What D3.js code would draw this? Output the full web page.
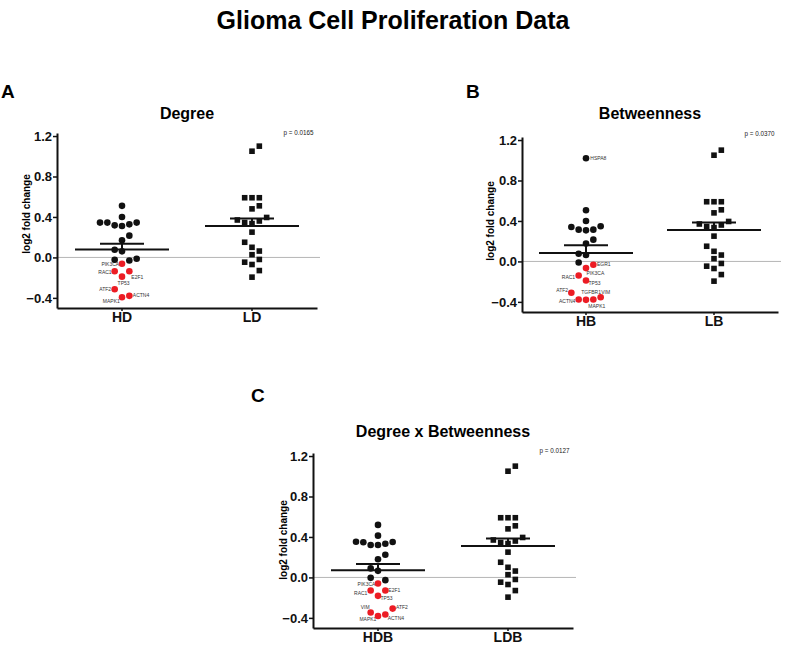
<!DOCTYPE html>
<html><head><meta charset="utf-8">
<script src="https://cdn.jsdelivr.net/npm/d3@7"></script>
<style>
body{margin:0;background:#fff}
svg{display:block}
text{font-family:"Liberation Sans",Arial,Helvetica,sans-serif}
</style>
</head><body>
<svg id="chart" width="787" height="645"></svg>
<script>
// ---------------- DATA ----------------
const mainTitle = "Glioma Cell Proliferation Data";
const yTicks = [-0.4, 0.0, 0.4, 0.8, 1.2];

// Panel A – Degree
const catsA = ["HD", "LD"];
const hdBlack = [0.51, 0.40, 0.344, 0.344, 0.317, 0.31, 0.327, 0.344, 0.215, 0.169, 0.076, 0.06, -0.023, -0.03, -0.013];
const hdBlackSlot = [0, 0, -3, -2, -1, 0, 1, 2, 1, 0, -1, 0, -1, 1, 2];
const hdBlackGenes = ["", "", "", "", "", "", "", "", "", "", "", "", "", "", ""];
const hdRedGenes = ["PIK3CA", "RAC1", "E2F1", "TP53", "ATF2", "MAPK1", "ACTN4"];
const hdRed = [-0.063, -0.136, -0.136, -0.19, -0.314, -0.394, -0.38];
const hdRedSlot = [0, -1, 1, 0, -1, 0, 1];
const pA = "p = 0.0165";

// Panel B – Betweenness
const catsB = ["HB", "LB"];
const hbBlack = [1.02, 0.506, 0.40, 0.34, 0.314, 0.307, 0.314, 0.347, 0.215, 0.176, 0.076, 0.063, -0.01];
const hbBlackSlot = [0, 0, 0, -2, -1, 0, 1, 2, 1, 0, -1, 0, -1];
const hbBlackGenes = ["HSPA8", "", "", "", "", "", "", "", "", "", "", "", ""];
const hbRedGenes = ["EGR1", "PIK3CA", "RAC1", "TP53", "ATF2", "ACTN4", "MAPK1", "TGFBR1", "VIM"];
const hbRed = [-0.033, -0.066, -0.139, -0.188, -0.31, -0.377, -0.38, -0.377, -0.354];
const hbRedSlot = [1, 0, -1, 0, -2, -1, 0, 1, 2];
const pB = "p = 0.0370";

// Panel C – Degree x Betweenness
const catsC = ["HDB", "LDB"];
const hdbBlack = [0.519, 0.413, 0.353, 0.347, 0.32, 0.32, 0.333, 0.35, 0.224, 0.179, 0.089, 0.065, -0.004, -0.027];
const hdbBlackSlot = [0, 0, -3, -2, -1, 0, 1, 2, 1, 0, -1, 0, -1, 1];
const hdbBlackGenes = ["", "", "", "", "", "", "", "", "", "", "", "", "", ""];
const hdbRedGenes = ["PIK3CA", "RAC1", "E2F1", "TP53", "ATF2", "VIM", "MAPK1", "ACTN4"];
const hdbRed = [-0.06, -0.129, -0.129, -0.182, -0.308, -0.347, -0.381, -0.367];
const hdbRedSlot = [0, -1, 1, 0, 2, -1, 0, 1];
const pC = "p = 0.0127";

// Low group (same in all three panels)
const lowValues = [1.05, 1.10, 0.59, 0.59, 0.59, 0.48, 0.51, 0.37, 0.345, 0.335, 0.36, 0.395, 0.25, 0.15, 0.10, 0.063, 0.027, -0.02, -0.047, -0.07, -0.13, -0.195];
const lowSlot = [0, 1, -1, 0, 1, 0, 1, -2, -1, 0, 1, 2, 0, -1, 0, 1, 0, 1, -1, 0, 1, 0];

// ---------------- LAYOUT / STYLE ----------------
const labelPlace = {
  A: {PIK3CA:[-2.8,2.5,"end"], RAC1:[-3,2.4,"end"], E2F1:[2,7.6,"start"], TP53:[-4.4,8.1,"start"],
      ATF2:[-3.5,1.8,"end"], ACTN4:[3.5,1.5,"start"], MAPK1:[-2.2,5.4,"end"]},
  B: {HSPA8:[4.3,1.8,"start"], EGR1:[3.7,1.5,"start"], PIK3CA:[0.5,6.8,"start"], RAC1:[-3.5,3.8,"end"],
      TP53:[2.5,4.8,"start"], ATF2:[-3.3,-0.9,"end"], ACTN4:[-3.3,3.2,"end"], MAPK1:[2.3,7.8,"start"],
      TGFBR1:[-2.2,-5.2,"middle"], VIM:[0.6,-2.9,"start"]},
  C: {PIK3CA:[-2.6,2.5,"end"], RAC1:[-3.3,4.5,"end"], E2F1:[3,1.5,"start"], TP53:[2.5,4.1,"start"],
      VIM:[-1,-3.2,"end"], ATF2:[3.3,0.5,"start"], MAPK1:[-1.6,5.4,"end"], ACTN4:[2.3,5.8,"start"]}
};

const panels = [
  {id:"A", title:"Degree", cats:catsA, black:hdBlack, blackSlot:hdBlackSlot, blackGenes:hdBlackGenes,
   redGenes:hdRedGenes, red:hdRed, redSlot:hdRedSlot, p:pA,
   x0:57, x1:317, bottom:308, letterX:1, letterY:98, titleY:119, ylabX:30, ylabY:214, pY:135},
  {id:"B", title:"Betweenness", cats:catsB, black:hbBlack, blackSlot:hbBlackSlot, blackGenes:hbBlackGenes,
   redGenes:hbRedGenes, red:hbRed, redSlot:hbRedSlot, p:pB,
   x0:522, x1:778, bottom:312, letterX:466, letterY:98, titleY:119, ylabX:494, ylabY:221, pY:135.5},
  {id:"C", title:"Degree x Betweenness", cats:catsC, black:hdbBlack, blackSlot:hdbBlackSlot, blackGenes:hdbBlackGenes,
   redGenes:hdbRedGenes, red:hdbRed, redSlot:hdbRedSlot, p:pC,
   x0:313, x1:573, bottom:628, letterX:251, letterY:402, titleY:437, ylabX:287, ylabY:540, pY:453}
];

const RED = "#ec1c24";
const SLOT = 7.33;
const svg = d3.select("#chart");

svg.append("text").attr("x", 393).attr("y", 29).attr("text-anchor", "middle")
  .attr("font-size", 25).attr("font-weight", "bold").text(mainTitle);

panels.forEach(P => {
  const g = svg.append("g");
  const y = d3.scaleLinear().domain([-0.5, 1.23]).range([P.bottom, P.bottom - 175]);
  const x = d3.scaleBand().domain(P.cats).range([P.x0, P.x1]).padding(0);
  const cx = c => x(c) + x.bandwidth() / 2;

  g.append("text").attr("x", P.letterX).attr("y", P.letterY).attr("font-size", 19)
    .attr("font-weight", "bold").text(P.id);
  g.append("text").attr("x", (P.x0 + P.x1) / 2).attr("y", P.titleY).attr("text-anchor", "middle")
    .attr("font-size", 16).attr("font-weight", "bold").text(P.title);
  g.append("text").attr("x", P.x1 - 3.5).attr("y", P.pY).attr("text-anchor", "end")
    .attr("font-size", 6.3).attr("fill", "#222").text(P.p);
  g.append("text").attr("transform", `translate(${P.ylabX},${P.ylabY}) rotate(-90)`)
    .attr("text-anchor", "middle").attr("font-size", 10).attr("font-weight", "bold").text("log2 fold change");

  g.append("line").attr("x1", P.x0).attr("x2", P.x1 + 3).attr("y1", y(0)).attr("y2", y(0))
    .attr("stroke", "#b5b5b5").attr("stroke-width", 1);

  const hc = cx(P.cats[0]), lc = cx(P.cats[1]);
  const highAll = P.black.concat(P.red);

  const labelled = [];
  P.black.forEach((v, i) => { if (P.blackGenes[i]) labelled.push({gene:P.blackGenes[i], v, s:P.blackSlot[i]}); });
  P.red.forEach((v, i) => labelled.push({gene:P.redGenes[i], v, s:P.redSlot[i]}));
  labelled.forEach(d => {
    const pl = labelPlace[P.id][d.gene];
    g.append("text").attr("x", hc + d.s * SLOT + pl[0]).attr("y", y(d.v) + pl[1])
      .attr("text-anchor", pl[2]).attr("font-size", 5).attr("fill", "#333").text(d.gene);
  });

  g.selectAll(null).data(P.black.map((v, i) => ({v, s:P.blackSlot[i]}))).join("circle")
    .attr("cx", d => hc + d.s * SLOT).attr("cy", d => y(d.v)).attr("r", 3.3).attr("fill", "#111");
  g.selectAll(null).data(P.red.map((v, i) => ({v, s:P.redSlot[i]}))).join("circle")
    .attr("cx", d => hc + d.s * SLOT).attr("cy", d => y(d.v)).attr("r", 3.3).attr("fill", RED);

  g.selectAll(null).data(lowValues.map((v, i) => ({v, s:lowSlot[i]}))).join("rect")
    .attr("x", d => lc + d.s * SLOT - 2.8).attr("y", d => y(d.v) - 2.8)
    .attr("width", 5.6).attr("height", 5.6).attr("fill", "#111");

  [[hc, highAll], [lc, lowValues]].forEach(([c, vals]) => {
    const m = d3.mean(vals), sem = d3.deviation(vals) / Math.sqrt(vals.length);
    g.append("line").attr("x1", c - 47).attr("x2", c + 47).attr("y1", y(m)).attr("y2", y(m))
      .attr("stroke", "#111").attr("stroke-width", 2);
    g.append("line").attr("x1", c - 22).attr("x2", c + 22).attr("y1", y(m + sem)).attr("y2", y(m + sem))
      .attr("stroke", "#111").attr("stroke-width", 2);
    g.append("line").attr("x1", c).attr("x2", c).attr("y1", y(m)).attr("y2", y(m + sem))
      .attr("stroke", "#111").attr("stroke-width", 2);
  });

  const ya = g.append("g").attr("transform", `translate(${P.x0},0)`)
    .call(d3.axisLeft(y).tickValues(yTicks).tickFormat(d3.format(".1f")).tickSize(4).tickSizeOuter(0));
  ya.select(".domain").attr("stroke-width", 2).attr("stroke", "#111");
  ya.selectAll(".tick line").attr("stroke-width", 1.5).attr("stroke", "#111");
  ya.selectAll(".tick text").attr("font-size", 13).attr("font-weight", "bold").attr("fill", "#111")
    .attr("font-family", "'Liberation Sans',Arial,sans-serif").attr("x", -5);

  const xa = g.append("g").attr("transform", `translate(0,${P.bottom})`)
    .call(d3.axisBottom(x).tickSize(3).tickSizeOuter(0));
  xa.select(".domain").attr("stroke-width", 2).attr("stroke", "#111");
  xa.selectAll(".tick line").attr("stroke-width", 1.5).attr("stroke", "#111");
  xa.selectAll(".tick text").attr("font-size", 14).attr("font-weight", "bold").attr("fill", "#111")
    .attr("font-family", "'Liberation Sans',Arial,sans-serif").attr("y", 4).attr("dy", "0.71em");
});
</script>
</body></html>
